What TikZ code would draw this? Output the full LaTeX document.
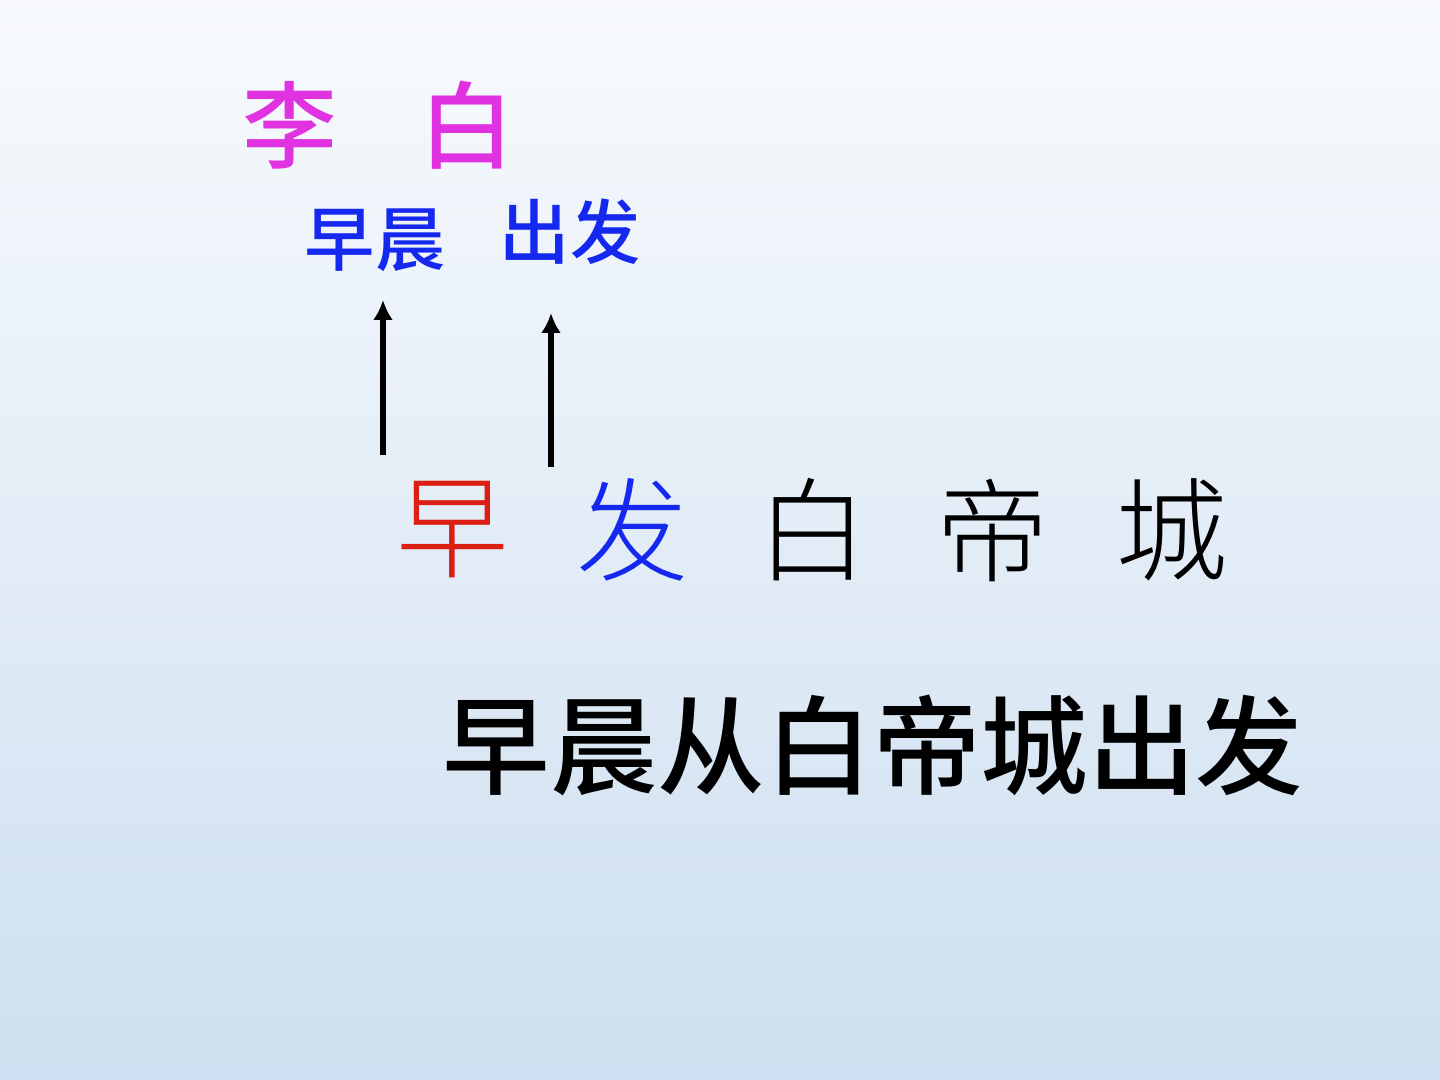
\documentclass[tikz,border=0pt]{standalone}
\usepackage{fontspec}
\usepackage{tikz}
\usetikzlibrary{arrows.meta,positioning}
\newfontfamily\cjk{Noto Sans CJK SC}[BoldFont={Noto Sans CJK SC Medium}]
\newfontfamily\cjklight{Noto Sans CJK SC Light}
\definecolor{topbg}{RGB}{248,250,253}
\definecolor{botbg}{RGB}{205,223,240}
\definecolor{namecol}{RGB}{225,50,225}
\definecolor{glosscol}{RGB}{20,40,240}
\definecolor{earlycol}{RGB}{220,30,20}
\tikzset{>={Latex[length=2mm,width=2mm]}}
\tikzset{
    poet/.style={inner sep=0pt,text=namecol,font=\cjk\bfseries\fontsize{27}{30}\selectfont},
    gloss/.style={inner sep=0pt,text=glosscol,font=\cjk\bfseries\fontsize{20}{24}\selectfont},
    verse/.style={inner sep=0pt,font=\cjklight\fontsize{32}{36}\selectfont},
    prose/.style={inner sep=0pt,font=\cjk\bfseries\fontsize{30.6}{34}\selectfont}
}
\begin{document}
\begin{tikzpicture}[line width=1.6pt]
                \shade[top color=topbg,bottom color=botbg] (0,0) rectangle (14.4,10.8);
                \useasboundingbox (0,0) rectangle (14.4,10.8);

                    % author
                    \node[poet] (li)  at (2.90,9.55) {李};
                    \node[poet] (bai) at (4.67,9.55) {白};

                    % glosses
                    \node[gloss] (zaochen) at (3.75,8.40) {早晨};
                    \node[gloss] (chufa)   at (5.70,8.48) {出发};

                    % verse line
                    \node[verse,text=earlycol]  (zao) at (4.53,5.50) {早};
                    \node[verse,text=glosscol]  (fa)  at (6.33,5.50) {发};
                    \node[verse] (baiv) at (8.13,5.50) {白};
                    \node[verse] (di)   at (9.93,5.50) {帝};
                    \node[verse] (cheng) at (11.72,5.50) {城};

                    % meaning
                    \node[prose] (meaning) at (8.73,3.35) {早晨从白帝城出发};

                    \coordinate (zaofoot) at (3.83,6.25);
                    \coordinate (zaotip)  at (3.83,7.80);
                    \coordinate (fafoot)  at (5.51,6.13);
                    \coordinate (fatip)   at (5.51,7.67);
                \path[->]
                        (zaofoot) edge (zaotip)
                        (fafoot)  edge (fatip)
                        ;
            \end{tikzpicture}
\end{document}
